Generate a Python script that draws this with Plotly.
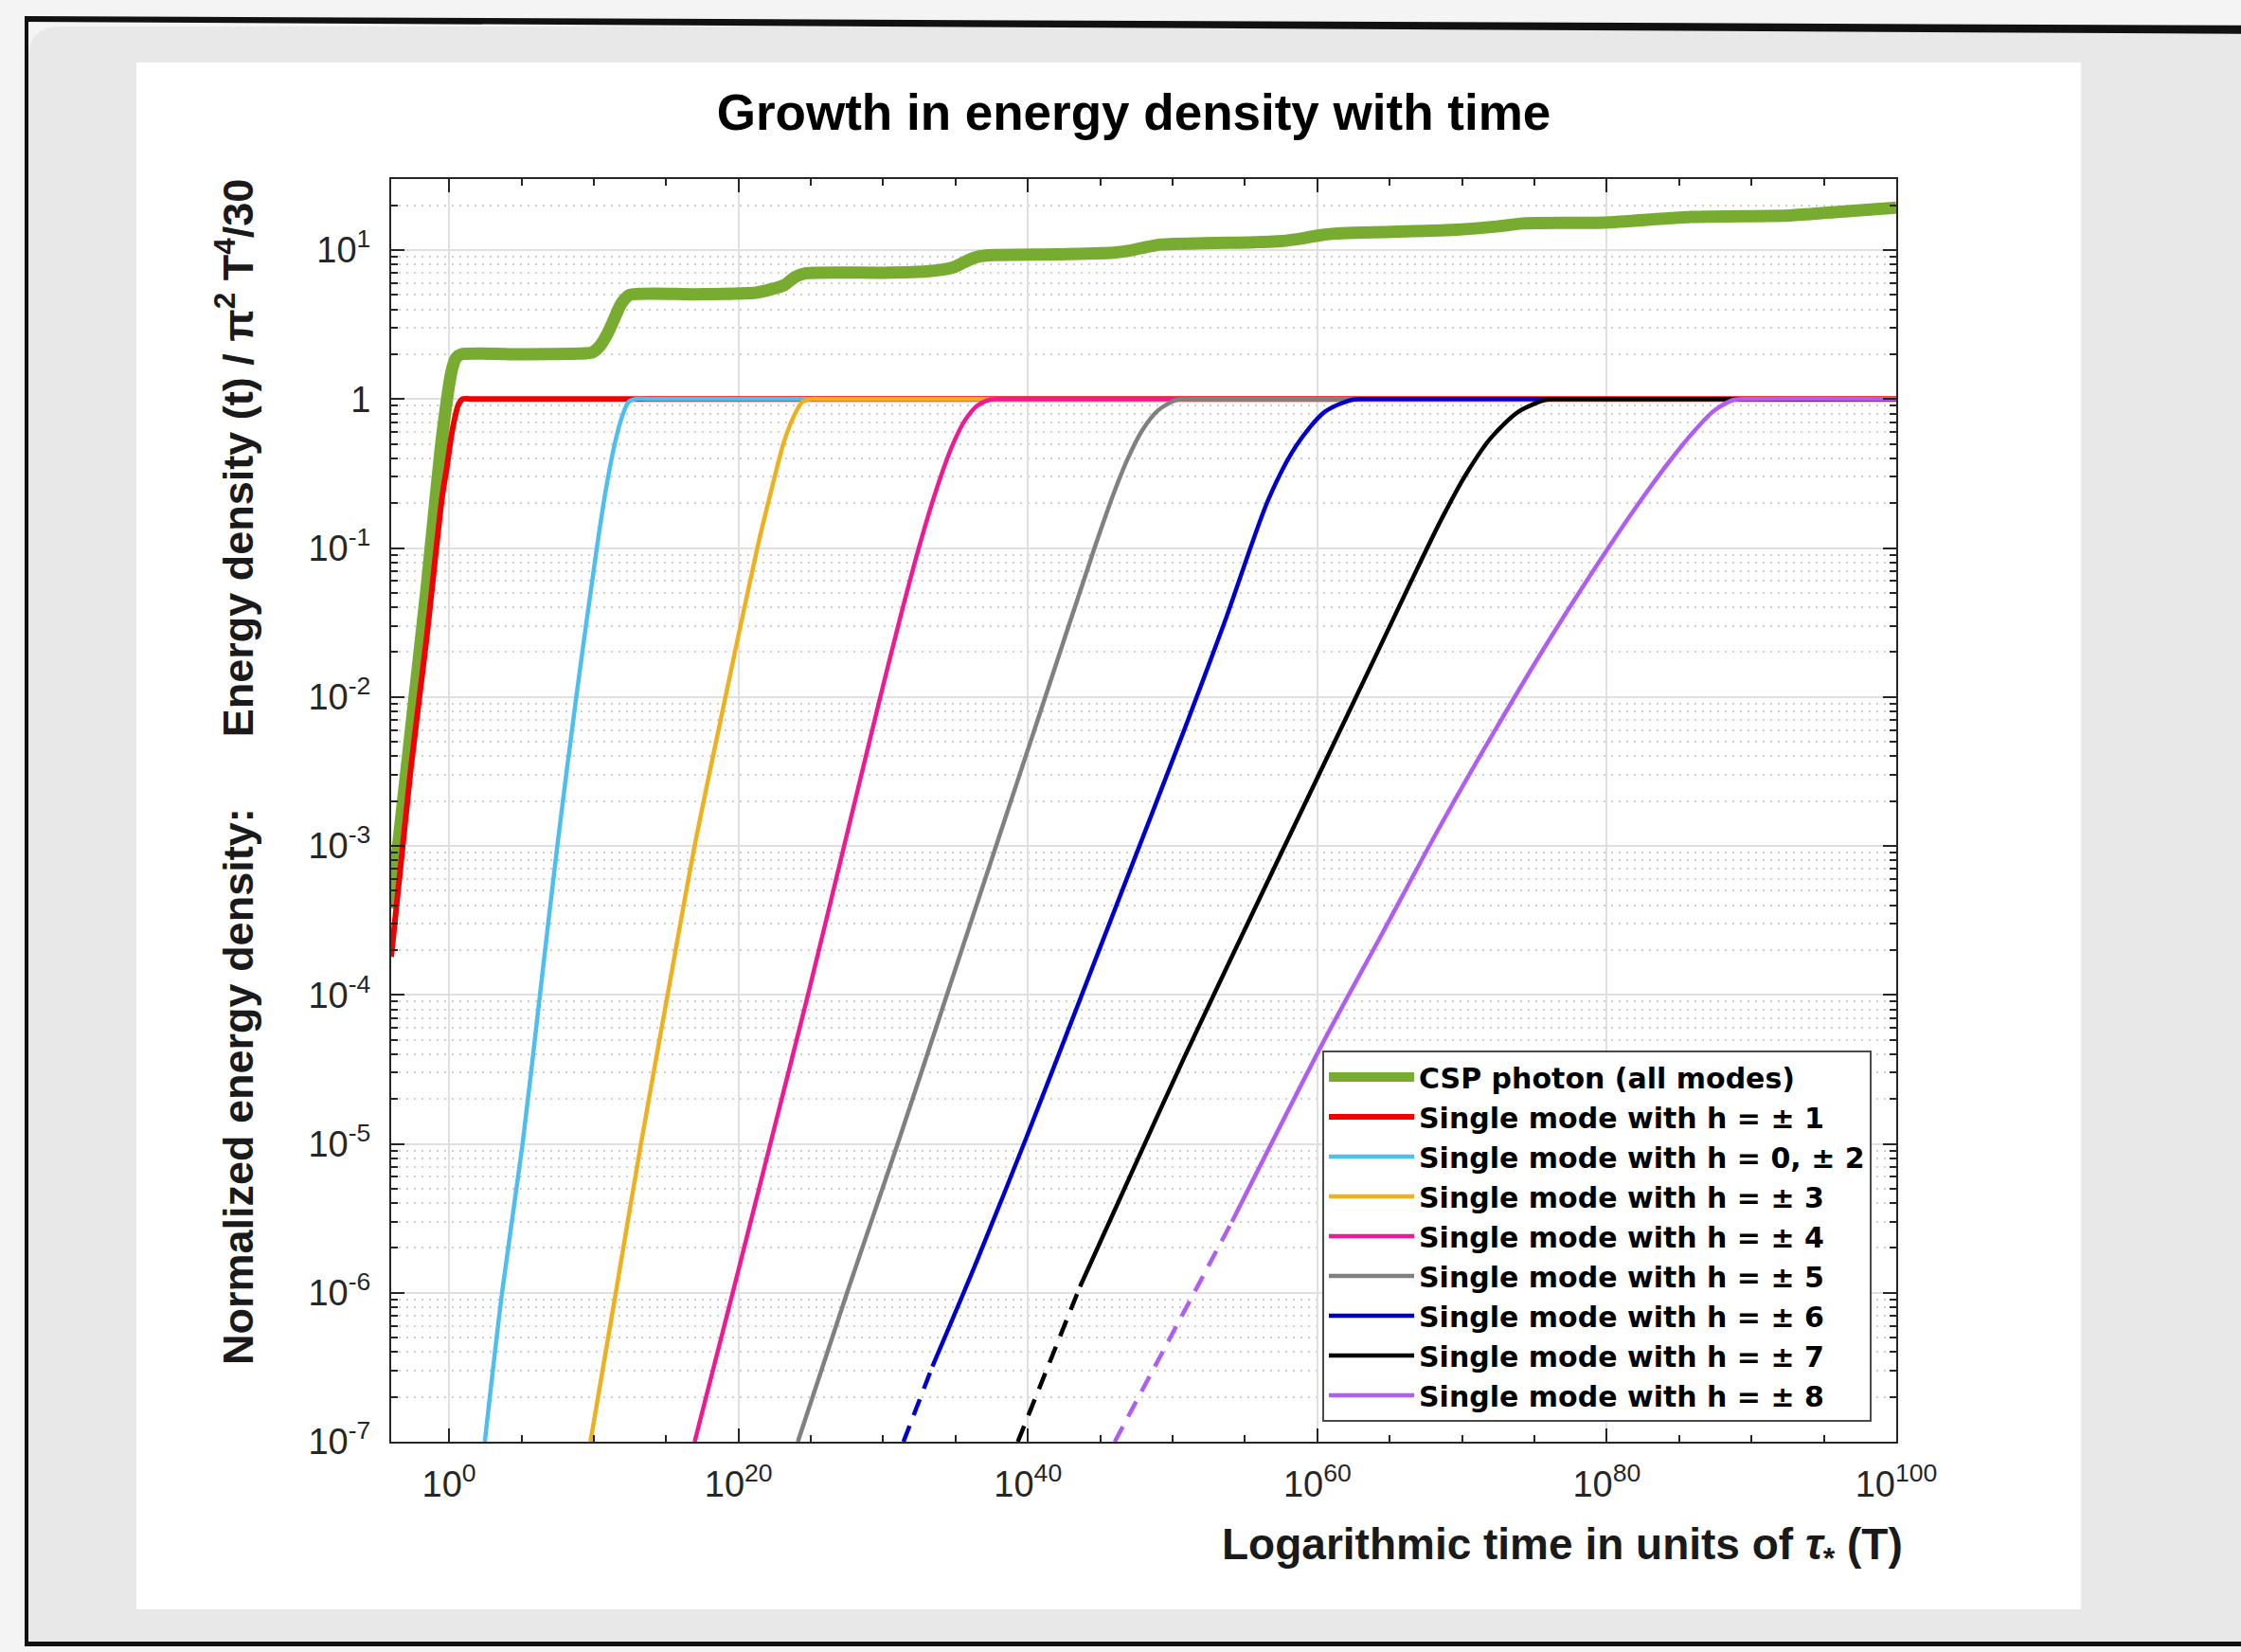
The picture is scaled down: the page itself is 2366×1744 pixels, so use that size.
import math
import plotly.graph_objects as go

# ---------------- data (log10 of time, energy density) ----------------
green_lt = [-4.0, -2.68, -1.57, -0.48, 0.2, 0.5, 0.85, 5.0, 9.0, 9.9, 10.4, 10.9, 11.4, 11.9, 12.5,
            17.0, 21.2, 22.2, 23.2, 23.9, 24.7, 30.0, 33.0, 34.8, 35.5, 36.3, 37.1, 42.0, 45.9,
            47.0, 48.0, 49.2, 55.7, 57.5, 59.0, 60.0, 61.2, 69.6, 72.4, 74.2, 79.8, 85.8, 92.7, 95.5, 100.0]
green_u = [3.8e-4, 5.5e-3, 0.052, 0.56, 1.58, 1.9, 2.0, 2.0, 2.02, 2.06, 2.26, 2.69, 3.43, 4.37, 5.0,
           5.05, 5.18, 5.44, 5.85, 6.6, 7.0, 7.05, 7.2, 7.64, 8.2, 8.9, 9.2, 9.35, 9.6,
           9.9, 10.4, 10.9, 11.3, 11.5, 12.0, 12.5, 12.9, 13.7, 14.4, 15.1, 15.3, 16.7, 17.1, 17.9, 19.3]

red_lt = [-4.0, -2.66, -1.57, -0.48, -0.15, 0.15, 0.39, 0.65, 0.94, 1.6, 100.0]
red_u = [1.8e-4, 3.2e-3, 0.024, 0.22, 0.35, 0.56, 0.74, 0.92, 1.0, 1.0, 1.0]

cyan_lt = [2.47, 3.66, 5.08, 6.28, 7.48, 8.79, 10.21, 10.85, 11.45, 11.95, 12.4, 12.9, 13.7, 100.0]
cyan_u = [1e-7, 1e-6, 1e-5, 1e-4, 1e-3, 1e-2, 0.1, 0.251, 0.501, 0.759, 0.955, 1.0, 1.0, 1.0]

yellow_lt = [9.77, 11.52, 13.26, 15.1, 16.97, 19.1, 21.3, 22.3, 23.1, 23.8, 24.4, 25.0, 25.8, 100.0]
yellow_u = [1e-7, 1e-6, 1e-5, 1e-4, 1e-3, 1e-2, 0.1, 0.251, 0.501, 0.759, 0.955, 1.0, 1.0, 1.0]

magenta_lt = [16.97, 19.6, 22.2, 24.8, 27.3, 29.8, 31.3, 32.6, 33.7, 34.7, 35.6, 36.5, 37.4, 38.3, 100.0]
magenta_u = [1e-7, 1e-6, 1e-5, 1e-4, 1e-3, 1e-2, 0.038, 0.112, 0.251, 0.468, 0.708, 0.902, 0.993, 1.0, 1.0]

grey_lt = [24.1, 27.5, 31.0, 34.4, 37.8, 41.2, 44.6, 45.9, 46.9, 47.9, 49.0, 50.3, 51.4, 100.0]
grey_u = [1e-7, 1e-6, 1e-5, 1e-4, 1e-3, 1e-2, 0.1, 0.229, 0.398, 0.617, 0.841, 0.989, 1.0, 1.0]

blue_dash_lt = [31.4, 33.4]
blue_dash_u = [1e-7, 3.2e-7]
blue_lt = [33.4, 36.5, 40.0, 43.2, 46.4, 50.8, 53.7, 56.6, 58.5, 60.5, 62.4, 63.6, 100.0]
blue_u = [3.2e-7, 1.66e-6, 1.17e-5, 7.4e-5, 4.7e-4, 6.0e-3, 0.034, 0.21, 0.48, 0.82, 0.99, 1.0, 1.0]

black_dash_lt = [39.3, 43.6]
black_dash_u = [1e-7, 1.1e-6]
black_lt = [43.6, 47.2, 50.8, 55.5, 60.1, 64.0, 66.5, 68.5, 70.3, 72.0, 73.9, 75.8, 77.0, 100.0]
black_u = [1.1e-6, 6.5e-6, 3.8e-5, 3.5e-4, 3.0e-3, 0.0186, 0.0603, 0.151, 0.316, 0.55, 0.822, 0.989, 1.0, 1.0]

purple_dash_lt = [46.0, 54.1]
purple_dash_u = [1e-7, 3.0e-6]
purple_lt = [54.1, 60.4, 64.5, 68.3, 72.0, 76.0, 80.1, 82.5, 84.4, 86.0, 87.4, 88.8, 90.0, 100.0]
purple_u = [3.0e-6, 4.8e-5, 2.6e-4, 1.26e-3, 5.37e-3, 0.024, 0.1, 0.219, 0.389, 0.603, 0.832, 0.989, 1.0, 1.0]

series_names = ["CSP photon (all modes)",
                "Single mode with h = ± 1",
                "Single mode with h = 0, ± 2",
                "Single mode with h = ± 3",
                "Single mode with h = ± 4",
                "Single mode with h = ± 5",
                "Single mode with h = ± 6",
                "Single mode with h = ± 7",
                "Single mode with h = ± 8"]

x_tick_exp = [0, 20, 40, 60, 80, 100]
x_tick_text = ["10<sup>0</sup>", "10<sup>20</sup>", "10<sup>40</sup>", "10<sup>60</sup>",
               "10<sup>80</sup>", "10<sup>100</sup>"]
y_tick_exp = [-7, -6, -5, -4, -3, -2, -1, 0, 1]
y_tick_text = ["10<sup>-7</sup>", "10<sup>-6</sup>", "10<sup>-5</sup>", "10<sup>-4</sup>",
               "10<sup>-3</sup>", "10<sup>-2</sup>", "10<sup>-1</sup>", "1", "10<sup>1</sup>"]

# ---------------- figure ----------------
W, H = 2366, 1744
L, R, T, B = 413, 2002, 189, 1522


def P(px, py):
    return (px - L) / (R - L), (B - py) / (B - T)


def tv(lt):
    return [10.0 ** e for e in lt]


fig = go.Figure()

solid = [
    (green_lt, green_u, "#77AC30", 13, series_names[0], 0.6),
    (red_lt, red_u, "#f20000", 6, series_names[1], 0.8),
    (cyan_lt, cyan_u, "#4DBEEE", 4.5, series_names[2], 0.8),
    (yellow_lt, yellow_u, "#EDB120", 4.5, series_names[3], 0.8),
    (magenta_lt, magenta_u, "#ee1a93", 4.5, series_names[4], 0.8),
    (grey_lt, grey_u, "#808080", 4.5, series_names[5], 0.8),
    (blue_lt, blue_u, "#0000cc", 4.5, series_names[6], 0.8),
    (black_lt, black_u, "#000000", 4.5, series_names[7], 0.8),
    (purple_lt, purple_u, "#b05ef2", 4.5, series_names[8], 0.8),
]
for lt, u, col, w, name, sm in solid:
    fig.add_trace(go.Scatter(x=tv(lt), y=u, mode="lines", name=name,
                             line=dict(color=col, width=w, shape="spline", smoothing=sm)))

dashed = [
    (blue_dash_lt, blue_dash_u, "#0000cc"),
    (black_dash_lt, black_dash_u, "#000000"),
    (purple_dash_lt, purple_dash_u, "#b05ef2"),
]
for lt, u, col in dashed:
    fig.add_trace(go.Scatter(x=tv(lt), y=u, mode="lines", showlegend=False,
                             line=dict(color=col, width=4.5, dash="18px,12px")))

axis_col = "#262626"
tick_font = dict(family="Liberation Sans, Arial", size=38, color=axis_col)

x_minor = [10.0 ** e for e in range(5, 100, 5) if e % 20 != 0]
y_minor = []
for k in range(-7, 2):
    for m in range(2, 10):
        v = m * 10.0 ** k
        if v <= 30:
            y_minor.append(v)

fig.update_xaxes(type="log", range=[-4, 100], tickmode="array",
                 tickvals=[10.0 ** e for e in x_tick_exp], ticktext=x_tick_text,
                 ticks="inside", ticklen=14, tickwidth=2, tickcolor=axis_col,
                 showline=True, linecolor=axis_col, linewidth=2, mirror="ticks",
                 showgrid=True, gridcolor="#e0e0e0", gridwidth=2, zeroline=False,
                 tickfont=tick_font, ticklabelstandoff=10,
                 minor=dict(tickmode="array", tickvals=x_minor, ticks="inside", ticklen=7,
                            tickwidth=2, tickcolor=axis_col, showgrid=False))
fig.update_yaxes(type="log", range=[-7, math.log10(30)], tickmode="array",
                 tickvals=[10.0 ** e for e in y_tick_exp], ticktext=y_tick_text,
                 ticks="inside", ticklen=14, tickwidth=2, tickcolor=axis_col,
                 showline=True, linecolor=axis_col, linewidth=2, mirror="ticks",
                 showgrid=True, gridcolor="#e0e0e0", gridwidth=2, zeroline=False,
                 tickfont=tick_font, ticklabelstandoff=12,
                 minor=dict(tickmode="array", tickvals=y_minor, ticks="inside", ticklen=7,
                            tickwidth=2, tickcolor=axis_col, showgrid=True,
                            gridcolor="#cdcdcd", gridwidth=1.5, griddash="2px,6px"))

# background decoration: grey panel, white figure area, black frame
shapes = []
a = P(30, 62); b = P(30, 28); c = P(64, 28); d = P(2420, 28); e = P(2420, 1733); f = P(30, 1733)
shapes.append(dict(type="path", xref="paper", yref="paper", layer="below",
                   path=f"M{a[0]},{a[1]} Q{b[0]},{b[1]} {c[0]},{c[1]} L{d[0]},{d[1]} L{e[0]},{e[1]} L{f[0]},{f[1]} Z",
                   fillcolor="#e8e8e8", line=dict(width=0)))
w0 = P(144, 1699); w1 = P(2197, 66)
shapes.append(dict(type="rect", xref="paper", yref="paper", layer="below",
                   x0=w0[0], y0=w0[1], x1=w1[0], y1=w1[1], fillcolor="white", line=dict(width=0)))
l0 = P(26, 1738); l1 = P(30, 18)
shapes.append(dict(type="rect", xref="paper", yref="paper", layer="below",
                   x0=l0[0], y0=l0[1], x1=l1[0], y1=l1[1], fillcolor="#111111", line=dict(width=0)))
t1 = P(26, 17); t2 = P(2420, 27); t3 = P(2420, 36); t4 = P(26, 23)
shapes.append(dict(type="path", xref="paper", yref="paper", layer="below",
                   path=f"M{t1[0]},{t1[1]} L{t2[0]},{t2[1]} L{t3[0]},{t3[1]} L{t4[0]},{t4[1]} Z",
                   fillcolor="#111111", line=dict(width=0)))
b0 = P(26, 1738); b1 = P(2420, 1733)
shapes.append(dict(type="rect", xref="paper", yref="paper", layer="below",
                   x0=b0[0], y0=b0[1], x1=b1[0], y1=b1[1], fillcolor="#111111", line=dict(width=0)))

ytitle_pos = P(248, 815)
xtitle_pos = P(2011, 1633)
annotations = [
    dict(xref="paper", yref="paper", x=ytitle_pos[0], y=ytitle_pos[1], xanchor="center",
         yanchor="middle", textangle=-90, showarrow=False,
         text="Normalized energy density:" + "\u00a0" * 6 +
              "Energy density (t) / π<sup>2</sup> T<sup>4</sup>/30",
         font=dict(family="Liberation Sans, Arial", size=45, color="#1a1a1a", weight="bold")),
    dict(xref="paper", yref="paper", x=xtitle_pos[0], y=xtitle_pos[1], xanchor="right",
         yanchor="middle", showarrow=False,
         text="Logarithmic time in units of <i>τ</i><sub>*</sub> (T)",
         font=dict(family="Liberation Sans, Arial", size=46, color="#1a1a1a", weight="bold")),
]

leg = P(1396, 1109)
fig.update_layout(
    width=W, height=H, autosize=False,
    margin=dict(l=L, r=W - R, t=T, b=H - B, pad=0),
    paper_bgcolor="#f4f4f4", plot_bgcolor="white",
    title=dict(text="Growth in energy density with time", x=P(1197, 0)[0], xref="paper",
               xanchor="center", y=1 - 118 / H, yref="container", yanchor="middle",
               font=dict(family="Liberation Sans, Arial", size=53, color="black", weight="bold")),
    legend=dict(x=leg[0], y=leg[1], xanchor="left", yanchor="top", bgcolor="white",
                bordercolor="#4a4a4a", borderwidth=2, itemwidth=90,
                font=dict(family="DejaVu Sans", size=30, color="black", weight="bold")),
    shapes=shapes, annotations=annotations, showlegend=True,
)

fig.write_html("out.html")
